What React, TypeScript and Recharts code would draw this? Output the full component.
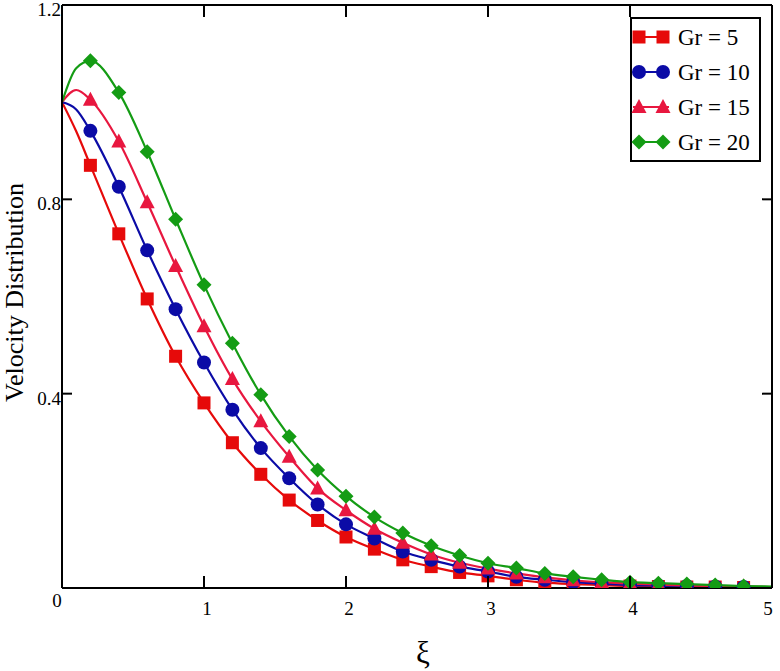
import React from 'react';
import { LineChart, Line, XAxis, YAxis, Legend } from 'recharts';

// ξ positions (markers every 0.2 from 0.2 to 4.8; 0, 0.1 and 5 are curve-only points)
const xi = [0, 0.1, 0.2, 0.4, 0.6, 0.8, 1.0, 1.2, 1.4, 1.6, 1.8, 2.0, 2.2, 2.4, 2.6, 2.8, 3.0, 3.2, 3.4, 3.6, 3.8, 4.0, 4.2, 4.4, 4.6, 4.8, 5.0];
const gr5 = [1.0, 0.94, 0.870, 0.729, 0.595, 0.477, 0.381, 0.299, 0.234, 0.181, 0.139, 0.105, 0.080, 0.058, 0.044, 0.032, 0.025, 0.017, 0.011, 0.008, 0.006, 0.004, 0.003, 0.002, 0.002, 0.001, 0.001];
const gr10 = [1.0, 0.985, 0.941, 0.826, 0.695, 0.574, 0.464, 0.367, 0.288, 0.226, 0.172, 0.131, 0.102, 0.075, 0.058, 0.044, 0.034, 0.023, 0.017, 0.012, 0.009, 0.006, 0.005, 0.004, 0.003, 0.002, 0.001];
const gr15 = [1.0, 1.025, 1.005, 0.919, 0.794, 0.663, 0.539, 0.430, 0.343, 0.270, 0.205, 0.160, 0.122, 0.093, 0.069, 0.052, 0.040, 0.030, 0.022, 0.016, 0.012, 0.009, 0.007, 0.005, 0.004, 0.003, 0.002];
const gr20 = [1.0, 1.07, 1.085, 1.020, 0.898, 0.759, 0.624, 0.504, 0.398, 0.312, 0.243, 0.189, 0.146, 0.113, 0.087, 0.067, 0.051, 0.041, 0.030, 0.023, 0.017, 0.012, 0.010, 0.008, 0.006, 0.004, 0.003];

const xTicks = [0, 1, 2, 3, 4, 5];
const yTicks = [0.4, 0.8, 1.2];
const seriesNames = ['Gr = 5', 'Gr = 10', 'Gr = 15', 'Gr = 20'];
const seriesKeys = ['g5', 'g10', 'g15', 'g20'];
const seriesColors = ['#e60a0a', '#0b0ba6', '#e8173f', '#149c14'];
const seriesShapes = ['square', 'circle', 'triangle', 'diamond'];

const data = xi.map((x, i) => ({ x, g5: gr5[i], g10: gr10[i], g15: gr15[i], g20: gr20[i] }));

const FONT = '"Liberation Serif", "Times New Roman", serif';

function Marker({ shape, cx, cy, color }: { shape: string; cx: number; cy: number; color: string }) {
  switch (shape) {
    case 'square':
      return <rect x={cx - 6.5} y={cy - 6.5} width={13} height={13} fill={color} />;
    case 'circle':
      return <circle cx={cx} cy={cy} r={7} fill={color} />;
    case 'triangle':
      return <polygon points={`${cx},${cy - 8} ${cx + 7.5},${cy + 6} ${cx - 7.5},${cy + 6}`} fill={color} />;
    default:
      return <polygon points={`${cx},${cy - 7.5} ${cx + 7.5},${cy} ${cx},${cy + 7.5} ${cx - 7.5},${cy}`} fill={color} />;
  }
}

const makeDot = (shape: string, color: string) => (props: any) => {
  const { cx, cy, index, payload } = props;
  const x = payload ? payload.x : 0;
  if (x < 0.15 || x > 4.85 || cx == null || cy == null) return <g key={`e-${shape}-${index}`} />;
  return (
    <g key={`d-${shape}-${index}`}>
      <Marker shape={shape} cx={cx} cy={cy} color={color} />
    </g>
  );
};

const BottomTick = (props: any) => {
  const { x, y, payload } = props;
  const v = payload.value;
  const tx = v === 0 ? x - 5 : v === 5 ? x - 4 : x + 3;
  const ty = v === 0 ? y + 19 : y + 27;
  return (
    <g>
      {v > 0 && v < 5 && <line x1={x} x2={x} y1={y} y2={y - 12} stroke="#000" strokeWidth={2} />}
      <text x={tx} y={ty} textAnchor="middle" fontSize={19} fontFamily={FONT} fill="#000">{v}</text>
    </g>
  );
};

const TopTick = (props: any) => {
  const { x, y, payload } = props;
  const v = payload.value;
  if (v <= 0 || v >= 5) return <g />;
  return <line x1={x} x2={x} y1={y} y2={y + 12} stroke="#000" strokeWidth={2} />;
};

const LeftTick = (props: any) => {
  const { x, y, payload } = props;
  const v = payload.value;
  return (
    <g>
      {v < 1.2 && <line x1={x} x2={x + 10} y1={y} y2={y} stroke="#000" strokeWidth={2} />}
      <text x={x - 1} y={y + 11} textAnchor="end" fontSize={19} fontFamily={FONT} fill="#000">{v.toFixed(1)}</text>
    </g>
  );
};

const RightTick = (props: any) => {
  const { x, y, payload } = props;
  const v = payload.value;
  if (v >= 1.2) return <g />;
  return <line x1={x} x2={x - 10} y1={y} y2={y} stroke="#000" strokeWidth={2} />;
};

const YLabel = (props: any) => {
  const vb = props.viewBox || { x: 61, y: 5, width: 1, height: 583 };
  const cx = 23;
  const cy = vb.y + vb.height / 2 - 4;
  return (
    <text x={cx} y={cy} transform={`rotate(-90, ${cx}, ${cy})`} textAnchor="middle" fontSize={26} fontFamily={FONT} fill="#000">
      Velocity Distribution
    </text>
  );
};

const XLabel = (props: any) => {
  const vb = props.viewBox || { x: 62, y: 588, width: 710, height: 1 };
  const cx = vb.x + vb.width / 2 + 6;
  return (
    <text x={cx} y={588 + 75} textAnchor="middle" fontSize={31} fontFamily={FONT} fill="#000">
      ξ
    </text>
  );
};

const LegendBox = () => (
  <svg width={131} height={145} style={{ display: 'block' }}>
    <rect x={1} y={1} width={129} height={143} fill="#fff" stroke="#000" strokeWidth={2} />
    {seriesNames.map((name, i) => {
      const cy = 20 + i * 35;
      return (
        <g key={name}>
          <line x1={3} x2={39} y1={cy} y2={cy} stroke={seriesColors[i]} strokeWidth={2} />
          <Marker shape={seriesShapes[i]} cx={9} cy={cy} color={seriesColors[i]} />
          <Marker shape={seriesShapes[i]} cx={33} cy={cy} color={seriesColors[i]} />
          <text x={48} y={cy + 8} fontSize={23} fontFamily={FONT} fill="#000">{name}</text>
        </g>
      );
    })}
  </svg>
);

export default function App() {
  return (
    <div style={{ position: 'absolute', left: 0, top: 0, width: 780, height: 671, background: '#fff' }}>
      <LineChart
        width={780}
        height={671}
        data={data}
        margin={{ top: 4, right: 7, bottom: 82, left: 61 }}
        style={{ fontFamily: FONT }}
      >
        <XAxis
          dataKey="x"
          type="number"
          domain={[0, 5]}
          allowDataOverflow
          ticks={xTicks}
          interval={0}
          height={1}
          tickSize={0}
          tickMargin={0}
          tickLine={false}
          axisLine={{ stroke: '#000', strokeWidth: 2 }}
          tick={<BottomTick />}
          label={<XLabel />}
        />
        <XAxis
          xAxisId="top"
          orientation="top"
          dataKey="x"
          type="number"
          domain={[0, 5]}
          allowDataOverflow
          ticks={xTicks}
          interval={0}
          height={1}
          tickSize={0}
          tickMargin={0}
          tickLine={false}
          axisLine={{ stroke: '#000', strokeWidth: 2 }}
          tick={<TopTick />}
        />
        <YAxis
          type="number"
          domain={[0, 1.2]}
          allowDataOverflow
          ticks={yTicks}
          interval={0}
          width={1}
          tickSize={0}
          tickMargin={0}
          tickLine={false}
          axisLine={{ stroke: '#000', strokeWidth: 2 }}
          tick={<LeftTick />}
          label={<YLabel />}
        />
        <YAxis
          yAxisId="right"
          orientation="right"
          type="number"
          domain={[0, 1.2]}
          allowDataOverflow
          ticks={yTicks}
          interval={0}
          width={1}
          tickSize={0}
          tickMargin={0}
          tickLine={false}
          axisLine={{ stroke: '#000', strokeWidth: 2 }}
          tick={<RightTick />}
        />
        {seriesKeys.map((k, i) => (
          <Line
            key={k}
            dataKey={k}
            name={seriesNames[i]}
            type="monotone"
            stroke={seriesColors[i]}
            strokeWidth={2.2}
            dot={makeDot(seriesShapes[i], seriesColors[i])}
            activeDot={false}
            isAnimationActive={false}
          />
        ))}
        <Legend
          layout="vertical"
          align="center"
          verticalAlign="middle"
          content={<LegendBox />}
          wrapperStyle={{ position: 'absolute', left: 630, top: 17, width: 131, height: 145 }}
        />
      </LineChart>
    </div>
  );
}
